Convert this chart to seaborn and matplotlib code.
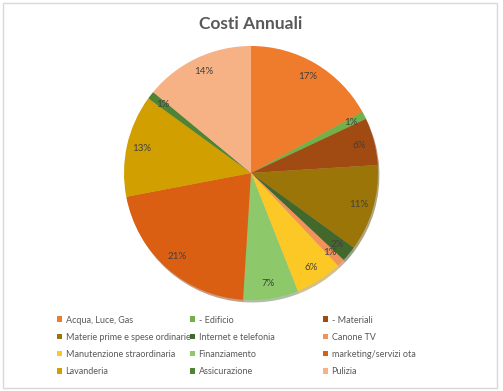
import matplotlib
matplotlib.use('Agg')
import matplotlib.pyplot as plt
from matplotlib.patches import Rectangle, Patch
import seaborn as sns

sns.set_theme(style="white")
plt.rcParams['font.family'] = ['Lato', 'DejaVu Sans']

# == data
categories = ['Acqua, Luce, Gas', '- Edificio', '- Materiali',
              'Materie prime e spese ordinarie', 'Internet e telefonia', 'Canone TV',
              'Manutenzione straordinaria', 'Finanziamento', 'marketing/servizi ota',
              'Lavanderia', 'Assicurazione', 'Pulizia']
shares = [17, 1, 6, 11, 2, 1, 6, 7, 21, 13, 1, 14]
colors = ['#EF7B2D', '#72B04A', '#A14A12', '#9C7508', '#43682B', '#F0925A',
          '#FCC826', '#8DC86A', '#DB5F12', '#D1A000', '#4F8436', '#F6B184']

W, H = 503, 391
fig = plt.figure(figsize=(W/100, H/100), dpi=100)
fig.patches.append(Rectangle((3/W, 3/H), 494/W, 385/H, transform=fig.transFigure,
                             fill=False, edgecolor='#D9D9D9', lw=1))

cx, cy, r = 251, 173, 127
ax = fig.add_axes([(cx-r)/W, (H-cy-r)/H, 2*r/W, 2*r/H])
wedges, texts, autotexts = ax.pie(shares, colors=colors, startangle=90, counterclock=False,
                                  autopct='%1.0f%%', pctdistance=0.88,
                                  wedgeprops={'linewidth': 0},
                                  textprops={'fontsize': 7, 'color': '#404040'},
                                  shadow={'ox': 0.008, 'oy': -0.014, 'shade': 0.35})
ax.set_xlim(-1, 1)
ax.set_ylim(-1, 1)
ax.axis('off')

fig.text(cx/W, 1-24/H, 'Costi Annuali', ha='center', va='center',
         fontsize=12.5, fontweight='bold', color='#595959')

# == legend: three fixed columns, row-major order
col_x = [52, 185, 318]
for c in range(3):
    handles = [Patch(facecolor=colors[i], edgecolor='none') for i in range(c, 12, 3)]
    labels = [categories[i] for i in range(c, 12, 3)]
    fig.legend(handles, labels, loc='upper left',
               bbox_to_anchor=(col_x[c]/W, 1-311/H), frameon=False,
               fontsize=6.5, handlelength=0.6, handleheight=0.6,
               handletextpad=0.4, labelspacing=0.9, borderpad=0,
               labelcolor='#595959')

fig.savefig('out.png', dpi=100)
